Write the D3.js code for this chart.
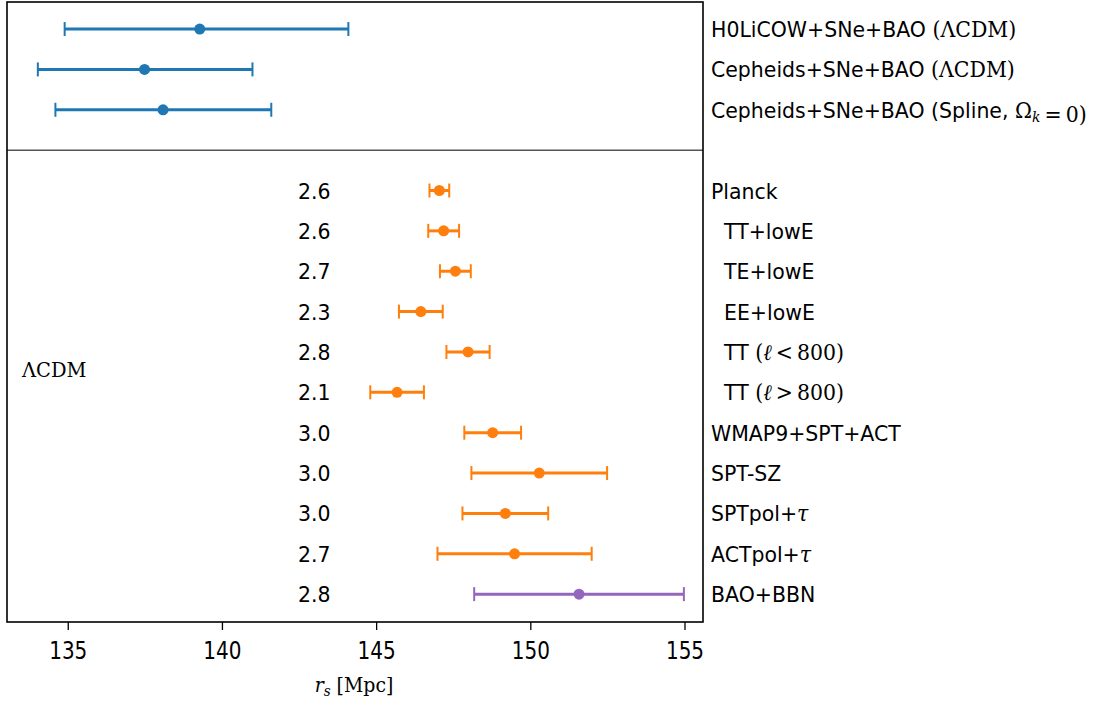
<!DOCTYPE html>
<html>
<head>
<meta charset="utf-8">
<script src="https://cdn.jsdelivr.net/npm/d3@7"></script>
<style>
  body { margin: 0; background: #fff; }
  text { white-space: pre; }
</style>
</head>
<body>
<div id="chart"></div>
<script>
// local distance-ladder measurements (top panel)
const ladderNames = ["H0LiCOW+SNe+BAO $(ΛCDM)$", "Cepheids+SNe+BAO $(ΛCDM)$", "Cepheids+SNe+BAO (Spline, $Ω_k = 0)$"];
const ladderCentre = [139.28, 137.49, 138.09];
const ladderLow = [134.9, 134.03, 134.6];
const ladderHigh = [144.1, 140.99, 141.6];

// CMB / BBN inferences (bottom panel)
const earlyNames = ["Planck", "  TT+lowE", "  TE+lowE", "  EE+lowE", "  TT $(ℓ < 800)$", "  TT $(ℓ > 800)$",
                    "WMAP9+SPT+ACT", "SPT-SZ", "SPTpol+$τ$", "ACTpol+$τ$", "BAO+BBN"];
const earlyCentre = [147.05, 147.19, 147.57, 146.45, 147.98, 145.68, 148.78, 150.29, 149.19, 149.49, 151.58];
const earlyErr = [0.32, 0.5, 0.5, 0.71, 0.7, 0.87, 0.92, 2.2, 1.39, 2.5, 3.4];
const earlyTension = ["2.6", "2.6", "2.7", "2.3", "2.8", "2.1", "3.0", "3.0", "3.0", "2.7", "2.8"];
const earlyGroup = ["cmb", "cmb", "cmb", "cmb", "cmb", "cmb", "cmb", "cmb", "cmb", "cmb", "bbn"];

const xTicks = [135, 140, 145, 150, 155];

const W = 1094, H = 702;
const plot = { left: 7, right: 703, top: 2, bottom: 622 };
const sans = "'DejaVu Sans', sans-serif";
const serif = "'DejaVu Serif', 'Liberation Serif', serif";
const FS = 22, SX = 0.93;

const svg = d3.select('#chart').append('svg').attr('width', W).attr('height', H);
svg.append('rect').attr('width', W).attr('height', H).attr('fill', '#fff');

const x = d3.scaleLinear().domain([133.03, 155.6]).range([plot.left, plot.right]);
const y = d3.scaleLinear().domain([-0.67, 14.69]).range([plot.top, plot.bottom]);
const colors = { ladder: '#1f77b4', cmb: '#ff7f0e', bbn: '#9467bd' };

// rows: ladder 0..2, divider at 3, early 4..14
const rows = [];
ladderNames.forEach((n, i) => rows.push({ name: n, c: ladderCentre[i], lo: ladderLow[i], hi: ladderHigh[i], idx: i, col: colors.ladder, t: '' }));
earlyNames.forEach((n, i) => rows.push({ name: n, c: earlyCentre[i], lo: earlyCentre[i] - earlyErr[i], hi: earlyCentre[i] + earlyErr[i], idx: i + 4, col: colors[earlyGroup[i]], t: earlyTension[i] }));

// squeezed text helper (source figure is narrow-ish)
function label(g, px, py, anchor, fs, sx) {
  return g.append('text')
    .attr('transform', `translate(${px},${py}) scale(${sx || SX},1)`)
    .attr('text-anchor', anchor || 'start')
    .attr('font-family', sans).attr('font-size', fs || FS).attr('fill', '#000');
}

// writes "plain $math$" into a text node, math in serif
function rich(t, s) {
  s.split('$').forEach((part, k) => {
    if (!part) return;
    if (k % 2 === 0) { t.append('tspan').text(part); return; }
    part.split('_').forEach((seg, j) => {
      if (j > 0) {
        t.append('tspan').attr('font-family', serif).attr('font-style', 'italic')
          .attr('font-size', FS * 0.68).attr('dy', 4).text(seg[0]);
        seg = seg.slice(1);
        t.append('tspan').attr('dy', -4).text('');
      }
      seg.split('').forEach(ch => {
        const ts = t.append('tspan').attr('font-family', serif).text(ch === ' ' ? '\u2009' : ch);
        if (/[a-zτℓ]/.test(ch)) ts.attr('font-style', 'italic');
      });
    });
  });
}

// error bars
const g = svg.append('g');
rows.forEach(r => {
  const yy = y(r.idx);
  g.append('line').attr('x1', x(r.lo)).attr('x2', x(r.hi)).attr('y1', yy).attr('y2', yy)
    .attr('stroke', r.col).attr('stroke-width', 3);
  [r.lo, r.hi].forEach(v => g.append('line').attr('x1', x(v)).attr('x2', x(v))
    .attr('y1', yy - 7).attr('y2', yy + 7).attr('stroke', r.col).attr('stroke-width', 2));
  g.append('circle').attr('cx', x(r.c)).attr('cy', yy).attr('r', 5.5).attr('fill', r.col);
  if (r.t) label(svg, 298, yy + 8).text(r.t);
  rich(label(svg, plot.right + 8, yy + 8), r.name);
});

// frame + divider
svg.append('line').attr('x1', plot.left).attr('x2', plot.right).attr('y1', y(3)).attr('y2', y(3))
  .attr('stroke', '#555').attr('stroke-width', 1.5);
svg.append('rect').attr('x', plot.left).attr('y', plot.top)
  .attr('width', plot.right - plot.left).attr('height', plot.bottom - plot.top)
  .attr('fill', 'none').attr('stroke', '#000').attr('stroke-width', 1.6);

// x axis
const ax = svg.append('g').attr('transform', `translate(0,${plot.bottom})`)
  .call(d3.axisBottom(x).tickValues(xTicks).tickSize(8).tickPadding(8).tickFormat(d3.format('d')));
ax.select('.domain').remove();
ax.selectAll('line').attr('stroke', '#000').attr('stroke-width', 1.3);
ax.selectAll('.tick text').attr('font-family', sans).attr('font-size', 25).attr('fill', '#000')
  .attr('dy', null).attr('y', 37).attr('transform', 'scale(0.8,1)');

// axis title r_s [Mpc]
const xt = label(svg, 354, 692, 'middle', 21, 0.9).attr('font-family', serif);
xt.append('tspan').attr('font-style', 'italic').text('r');
xt.append('tspan').attr('font-style', 'italic').attr('font-size', 15).attr('dy', 4).text('s');
xt.append('tspan').attr('dy', -4).text(' [Mpc]');

// model label
label(svg, 22, 377, 'start', 20.5, 0.95).attr('font-family', serif).text('ΛCDM');
</script>
</body>
</html>
